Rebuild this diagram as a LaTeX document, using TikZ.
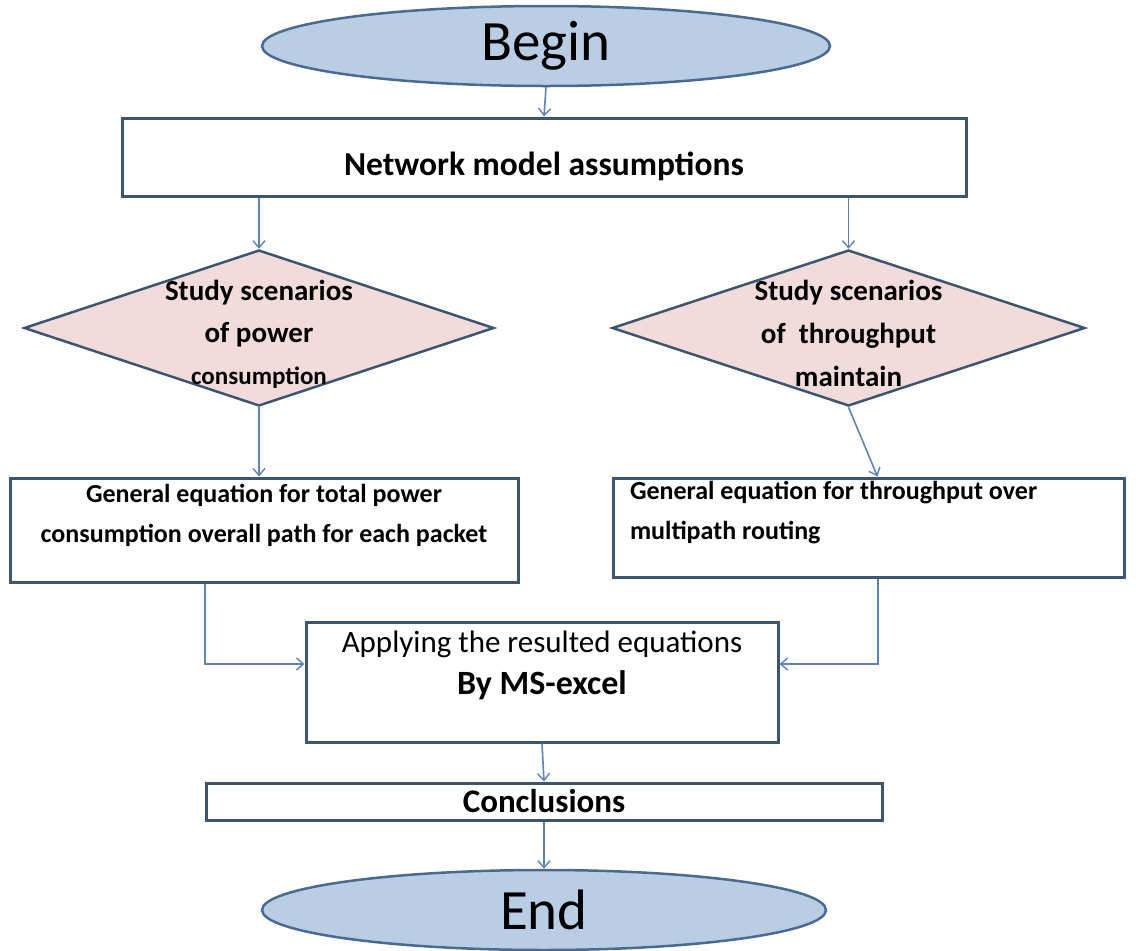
\documentclass[tikz,border=0pt]{standalone}
\usepackage{fontspec}
\setmainfont{Carlito}
\usetikzlibrary{shapes.geometric,arrows.meta}
\definecolor{ellfill}{HTML}{B9CDE5}
\definecolor{ellline}{HTML}{4A6A90}
\definecolor{diafill}{HTML}{F2DCDB}
\definecolor{boxline}{HTML}{3E5570}
\definecolor{arrline}{HTML}{5F84B0}
\tikzset{
  term/.style={ellipse, draw=ellline, fill=ellfill, line width=2.5pt, inner sep=0pt, font=\fontsize{57}{60}\selectfont},
  procbox/.style={rectangle, draw=boxline, line width=3pt, inner sep=0pt, fill=white},
  decide/.style={diamond, draw=boxline, fill=diafill, line width=2.5pt, inner sep=0pt},
  conn/.style={draw=arrline, line width=1.6pt, -{Straight Barb[length=7pt,width=12pt,line width=1.4pt]}},
}
\begin{document}
\begin{tikzpicture}[x=1pt,y=-1pt]
\useasboundingbox (0,0) rectangle (1136,951);
\fill[white] (0,0) rectangle (1136,951);

\node[term, minimum width=568pt, minimum height=80pt] (begin) at (546,46) {Begin};
\node[procbox, minimum width=844pt, minimum height=78pt,
  label={[yshift=-9pt, font=\fontsize{33.5}{34}\selectfont\bfseries]center:Network model assumptions}] (net) at (544,157) {};

\node[decide, minimum width=470pt, minimum height=156pt,
  label={[yshift=-6pt, align=center, font=\fontsize{29}{42}\selectfont\bfseries]center:Study scenarios\\of power\\{\fontsize{25}{30}\selectfont consumption}}] (dl) at (259,328) {};
\node[decide, minimum width=473pt, minimum height=156pt,
  label={[yshift=-5pt, align=center, font=\fontsize{29}{43}\selectfont\bfseries]center:Study scenarios\\of~ throughput\\maintain}] (dr) at (848.5,328) {};

\node[procbox, minimum width=508pt, minimum height=104pt] (bl) at (264,530) {};
\node[align=center, font=\fontsize{26}{40}\selectfont\bfseries, anchor=north] at ([yshift=-4pt]bl.north) {General equation for total power\\consumption overall path for each packet};
\node[procbox, minimum width=511pt, minimum height=99pt] (br) at (868.5,527.5) {};
\node[align=left, font=\fontsize{26}{40}\selectfont\bfseries, anchor=north west] at ([xshift=15pt,yshift=-1pt]br.north west) {General equation for throughput over\\multipath routing};

\node[procbox, minimum width=472pt, minimum height=120pt] (mid) at (542,682) {};
\node[align=center, anchor=north] at ([yshift=-7pt]mid.north) {\fontsize{31}{32}\selectfont Applying the resulted equations\\[12pt]{\fontsize{34}{35}\selectfont\bfseries By MS-excel}};

\node[procbox, minimum width=676pt, minimum height=37pt, font=\fontsize{33}{34}\selectfont\bfseries] (conc) at (544,801.5) {Conclusions};

\node[term, minimum width=564pt, minimum height=80pt] (end) at (544,910) {End};

\draw[conn] (begin.south) -- (net.north);
\draw[conn] (net.south -| dl.north) -- (dl.north);
\draw[conn] (net.south -| dr.north) -- (dr.north);
\draw[conn] (dl.south) -- (dl.south |- bl.north);
\draw[conn] (dr.south) -- ([xshift=9pt]br.north);
\draw[conn] ([xshift=-59pt]bl.south) |- ([yshift=18pt]mid.west);
\draw[conn] ([xshift=9.5pt]br.south) |- ([yshift=18pt]mid.east);
\draw[conn] (mid.south) -- (conc.north);
\draw[conn] (conc.south) -- (end.north);
\end{tikzpicture}
\end{document}
